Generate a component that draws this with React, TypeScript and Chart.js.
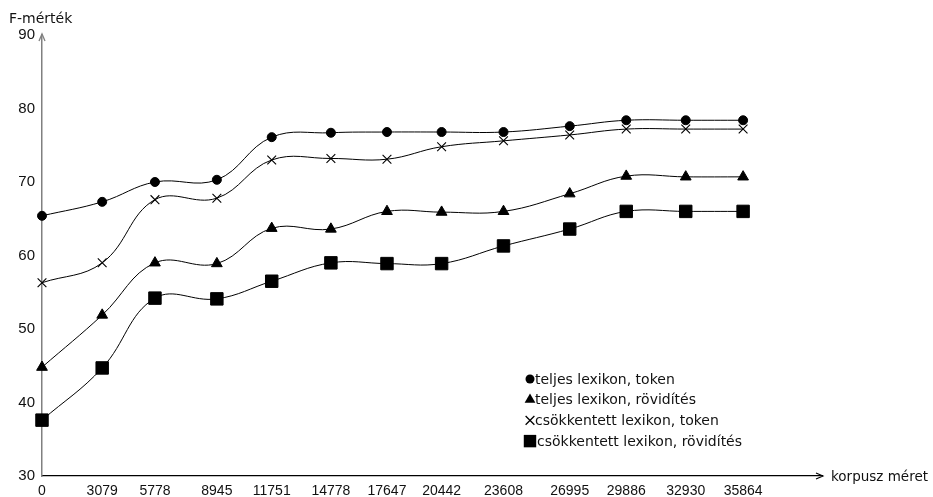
import React, { useEffect, useRef } from "react";
import { Chart, registerables } from "chart.js";

Chart.register(...registerables);

const corpusSizes = [0, 3079, 5778, 8945, 11751, 14778, 17647, 20442, 23608, 26995, 29886, 32930, 35864];
const fullToken = [65.4, 67.3, 70.0, 70.3, 76.1, 76.7, 76.8, 76.8, 76.8, 77.6, 78.4, 78.4, 78.4];
const fullAbbrev = [44.8, 51.9, 59.0, 58.9, 63.7, 63.6, 66.0, 65.9, 66.0, 68.4, 70.8, 70.7, 70.7];
const reducedToken = [56.3, 59.0, 67.6, 67.8, 73.0, 73.2, 73.1, 74.8, 75.6, 76.4, 77.2, 77.2, 77.2];
const reducedAbbrev = [37.6, 44.7, 54.2, 54.1, 56.5, 59.0, 58.9, 58.9, 61.3, 63.6, 66.0, 66.0, 66.0];
const seriesLabels = [
  "teljes lexikon, token",
  "teljes lexikon, rövidítés",
  "csökkentett lexikon, token",
  "csökkentett lexikon, rövidítés",
];
const yTicks = [30, 40, 50, 60, 70, 80, 90];
const yTitle = "F-mérték";
const xTitle = "korpusz méret";

const TICK_FONT = "Liberation Sans, Arial, sans-serif";
const TEXT_FONT = "DejaVu Sans, Verdana, sans-serif";

const toXY = (vals: number[]) => vals.map((v, i) => ({ x: corpusSizes[i], y: v }));

function drawMarker(ctx: CanvasRenderingContext2D, style: string, x: number, y: number, r: number) {
  ctx.save();
  ctx.fillStyle = "#000";
  ctx.strokeStyle = "#000";
  ctx.lineWidth = 1.3;
  ctx.beginPath();
  if (style === "circle") {
    ctx.arc(x, y, r, 0, Math.PI * 2);
    ctx.fill();
  } else if (style === "triangle") {
    const w = r * Math.sin(Math.PI / 3);
    ctx.moveTo(x, y - r);
    ctx.lineTo(x + w, y + r / 2);
    ctx.lineTo(x - w, y + r / 2);
    ctx.closePath();
    ctx.fill();
  } else if (style === "crossRot") {
    const o = r * Math.SQRT1_2;
    ctx.moveTo(x - o, y - o);
    ctx.lineTo(x + o, y + o);
    ctx.moveTo(x - o, y + o);
    ctx.lineTo(x + o, y - o);
    ctx.stroke();
  } else {
    const s = r * Math.SQRT1_2;
    ctx.rect(x - s, y - s, 2 * s, 2 * s);
    ctx.fill();
  }
  ctx.restore();
}

const decorPlugin = {
  id: "decor",
  afterDraw(chart: any) {
    const ctx = chart.ctx as CanvasRenderingContext2D;
    const area = chart.chartArea;
    ctx.save();
    // y axis arrow
    ctx.strokeStyle = "#808080";
    ctx.lineWidth = 1.3;
    ctx.beginPath();
    ctx.moveTo(area.left - 3, area.top + 6);
    ctx.lineTo(area.left, area.top - 1);
    ctx.lineTo(area.left + 3, area.top + 6);
    ctx.stroke();
    // x axis arrow
    ctx.strokeStyle = "#000";
    ctx.lineWidth = 1.1;
    ctx.beginPath();
    ctx.moveTo(area.right - 6, area.bottom - 3);
    ctx.lineTo(area.right + 1, area.bottom);
    ctx.lineTo(area.right - 6, area.bottom + 3);
    ctx.stroke();
    // titles
    ctx.fillStyle = "#111";
    ctx.textBaseline = "middle";
    ctx.textAlign = "left";
    ctx.font = `14px ${TEXT_FONT}`;
    ctx.fillText(yTitle, 9, 19);
    ctx.font = `13.5px ${TEXT_FONT}`;
    ctx.fillText(xTitle, area.right + 9, area.bottom + 1);
    // legend
    ctx.font = `14px ${TEXT_FONT}`;
    const lx = 530;
    const ly0 = 379;
    const dy = 20.7;
    chart.data.datasets.forEach((ds: any, i: number) => {
      const y = ly0 + i * dy;
      const r = ds.pointStyle === "rect" ? 8.8 : ds.pointStyle === "circle" ? 4.5 : 6.2;
      drawMarker(ctx, ds.pointStyle, lx, y, r);
      ctx.fillStyle = "#111";
      ctx.fillText(ds.label, lx + (ds.pointStyle === "rect" ? 7 : 5), y + 1);
    });
    ctx.restore();
  },
};

export default function App() {
  const ref = useRef<HTMLCanvasElement | null>(null);
  useEffect(() => {
    document.body.style.margin = "0";
    const canvas = ref.current;
    if (!canvas) return;
    const common = {
      borderColor: "#000",
      backgroundColor: "#000",
      borderWidth: 1,
      pointBackgroundColor: "#000",
      pointBorderColor: "#000",
      pointBorderWidth: 1,
      tension: 0.4,
      clip: false as any,
      fill: false,
    };
    const chart = new Chart(canvas, {
      type: "line",
      data: {
        datasets: [
          { ...common, label: seriesLabels[0], data: toXY(fullToken), pointStyle: "circle", pointRadius: 4.5 },
          { ...common, label: seriesLabels[1], data: toXY(fullAbbrev), pointStyle: "triangle", pointRadius: 6.2 },
          { ...common, label: seriesLabels[2], data: toXY(reducedToken), pointStyle: "crossRot", pointRadius: 6.2, pointBorderWidth: 1.1 },
          { ...common, label: seriesLabels[3], data: toXY(reducedAbbrev), pointStyle: "rect", pointRadius: 8.8 },
        ] as any,
      },
      options: {
        animation: false,
        responsive: false,
        maintainAspectRatio: false,
        layout: { padding: { left: 0, top: 35, right: 111, bottom: 0 } },
        plugins: { legend: { display: false }, tooltip: { enabled: false } },
        scales: {
          x: {
            type: "linear",
            min: 0,
            max: 39900,
            grid: { display: false, drawTicks: false },
            border: { display: true, color: "#000", width: 1.2 },
            afterBuildTicks: (scale: any) => {
              scale.ticks = corpusSizes.map((v) => ({ value: v }));
            },
            afterFit: (scale: any) => {
              scale.height = 21;
            },
            ticks: {
              autoSkip: false,
              maxRotation: 0,
              padding: 7,
              color: "#111",
              font: { family: TICK_FONT, size: 14 },
              callback: (v: any) => String(v),
            },
          },
          y: {
            type: "linear",
            min: 30,
            max: 90,
            grid: { display: false, drawTicks: false },
            border: { display: true, color: "#808080", width: 1.5 },
            afterBuildTicks: (scale: any) => {
              scale.ticks = yTicks.map((v) => ({ value: v }));
            },
            afterFit: (scale: any) => {
              scale.width = 42;
            },
            ticks: {
              padding: 7,
              color: "#111",
              font: { family: TICK_FONT, size: 15 },
              callback: (v: any) => String(v),
            },
          },
        },
      },
      plugins: [decorPlugin],
    });
    return () => chart.destroy();
  }, []);
  return (
    <div style={{ position: "relative", width: 933, height: 497, background: "#fff" }}>
      <canvas ref={ref} width={933} height={497} style={{ display: "block", width: 933, height: 497 }} />
    </div>
  );
}
